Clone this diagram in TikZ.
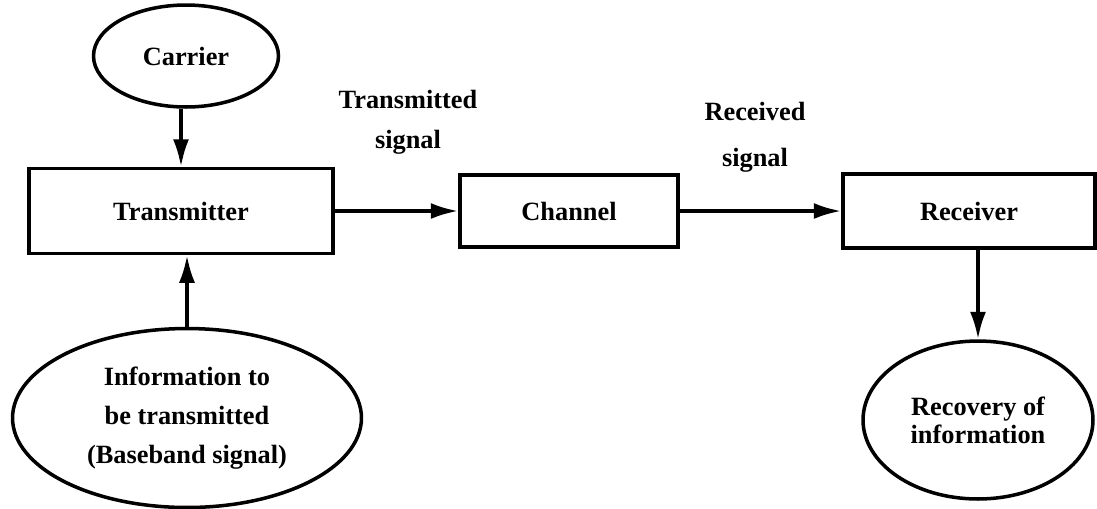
\documentclass[tikz,border=0pt]{standalone}
\usepackage{fontspec}
\setmainfont{Liberation Serif}
\usetikzlibrary{shapes.geometric,arrows.meta}

\begin{document}
\begin{tikzpicture}[x=0.02cm,y=-0.02cm,
  font=\bfseries\fontsize{15}{22}\selectfont,
  block/.style={draw,line width=2pt,minimum width=#1,inner sep=0pt},
  oval/.style={draw,ellipse,line width=2pt,inner sep=0pt,align=center},
  arr/.style={line width=2pt,-{Latex[length=5.5mm,width=3.2mm]}}]
  \useasboundingbox (0,0) rectangle (1097,508);
  % blocks
  \node[block=6.08cm,minimum height=1.7cm] (tx) at (181,211) {Transmitter};
  \node[block=4.36cm,minimum height=1.44cm] (ch) at (569,211) {Channel};
  \node[block=5.04cm,minimum height=1.48cm] (rx) at (969,211) {Receiver};
  % ovals
  \node[oval,minimum width=3.7cm,minimum height=2.04cm] (carrier) at (186,56) {Carrier};
  \node[oval,minimum width=6.98cm,minimum height=3.58cm] (info) at (187,418)
    {Information to\\be transmitted\\(Baseband signal)};
  \node[oval,minimum width=4.6cm,minimum height=3.16cm,font=\bfseries\fontsize{15}{16}\selectfont] (recov) at (978,420)
    {Recovery of\\information};
  % signal labels
  \node[align=center,font=\bfseries\fontsize{15}{23}\selectfont] (txlabel) at (408,122) {Transmitted\\signal};
  \node[align=center,font=\bfseries\fontsize{15}{26}\selectfont] (rxlabel) at (755,137) {Received\\signal};
  % connectors
  \draw[arr] (carrier.south -| tx.north) -- (tx.north);
  \draw[arr] (info.north) -- (info.north |- tx.south);
  \draw[arr] (tx.east) -- (ch.west);
  \draw[arr] (ch.east) -- (rx.west);
  \draw[arr] (rx.south -| recov.north) -- (recov.north);
\end{tikzpicture}
\end{document}
